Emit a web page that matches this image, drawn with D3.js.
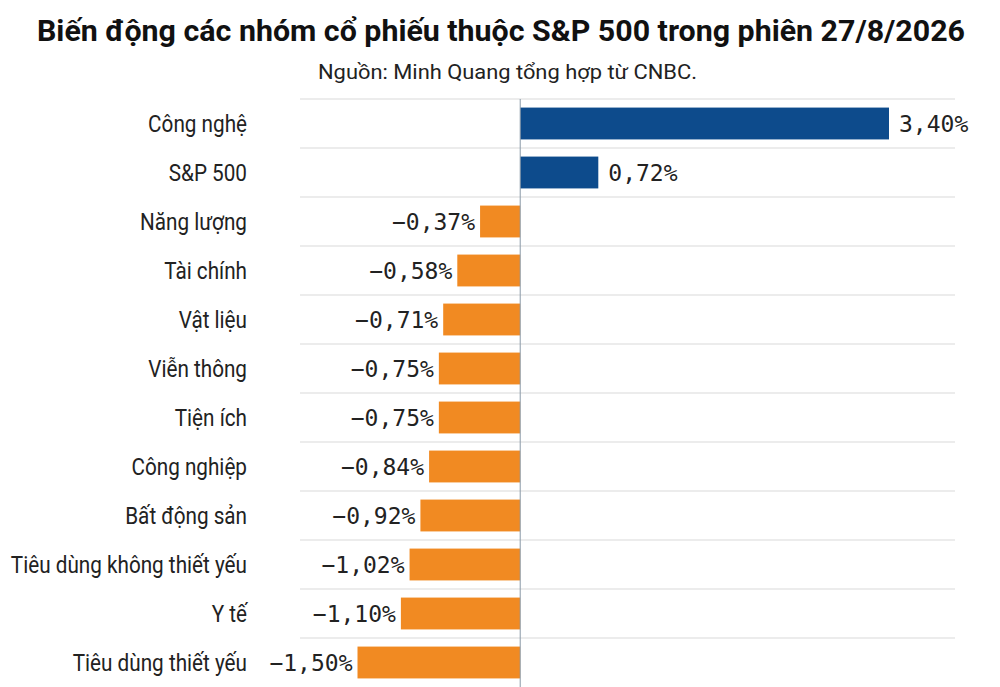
<!DOCTYPE html>
<html>
<head>
<meta charset="utf-8">
<script src="https://cdn.jsdelivr.net/npm/d3@7"></script>
<style>
  body { margin: 0; background: #fff; }
  svg { display: block; }
</style>
</head>
<body>
<svg id="chart" width="1000" height="687"></svg>
<script>
// categories and values (% change)
var categories = ["Công nghệ", "S&P 500", "Năng lượng", "Tài chính", "Vật liệu", "Viễn thông",
  "Tiện ích", "Công nghiệp", "Bất động sản", "Tiêu dùng không thiết yếu", "Y tế", "Tiêu dùng thiết yếu"];
var values = [3.40, 0.72, -0.37, -0.58, -0.71, -0.75, -0.75, -0.84, -0.92, -1.02, -1.10, -1.50];
var labels = ["3,40%", "0,72%", "−0,37%", "−0,58%", "−0,71%", "−0,75%", "−0,75%", "−0,84%",
  "−0,92%", "−1,02%", "−1,10%", "−1,50%"];

var titleText = "Biến động các nhóm cổ phiếu thuộc S&P 500 trong phiên 27/8/2026";
var sourceText = "Nguồn: Minh Quang tổng hợp từ CNBC.";

var svg = d3.select("#chart");

var x = d3.scaleLinear().domain([-1.5, 3.4]).range([357.5, 889]);
var y = d3.scaleBand().domain(categories).range([99, 687]).paddingInner(0.35).paddingOuter(0.175);

// title (condensed to fit width like the original)
svg.append("text")
  .attr("x", 37).attr("y", 41)
  .attr("textLength", 928)
  .attr("lengthAdjust", "spacingAndGlyphs")
  .style("font-family", "Roboto, sans-serif")
  .style("font-weight", "bold")
  .style("font-size", "29px")
  .attr("fill", "#111")
  .text(titleText);

svg.append("text")
  .attr("x", 318).attr("y", 79)
  .attr("textLength", 379)
  .attr("lengthAdjust", "spacingAndGlyphs")
  .style("font-family", "Roboto, sans-serif")
  .style("font-size", "20px")
  .attr("fill", "#222")
  .text(sourceText);

// row gridlines
var step = y.step();
var gridY = categories.map(function(c) { return y(c) - (step - y.bandwidth()) / 2; });
svg.append("g").selectAll("line")
  .data(gridY)
  .enter().append("line")
  .attr("x1", 300).attr("x2", 955)
  .attr("y1", function(d) { return d; })
  .attr("y2", function(d) { return d; })
  .attr("stroke", "#e6e6e6")
  .attr("stroke-width", 1.5);

// bars
svg.append("g").selectAll("rect")
  .data(values)
  .enter().append("rect")
  .attr("x", function(d) { return x(Math.min(0, d)); })
  .attr("y", function(d, i) { return y(categories[i]); })
  .attr("width", function(d) { return Math.abs(x(d) - x(0)); })
  .attr("height", y.bandwidth())
  .attr("fill", function(d) { return d >= 0 ? "#0d4b8c" : "#f18a22"; });

// zero line
svg.append("line")
  .attr("x1", x(0)).attr("x2", x(0))
  .attr("y1", 99).attr("y2", 687)
  .attr("stroke", "#8a9aa8")
  .attr("stroke-width", 1);

// category labels (narrowed a bit)
svg.append("g").selectAll("text")
  .data(categories)
  .enter().append("text")
  .attr("transform", function(d) {
    return "translate(247," + (y(d) + y.bandwidth() / 2) + ") scale(0.9,1)";
  })
  .attr("dy", "0.35em")
  .attr("text-anchor", "end")
  .style("font-family", "Roboto, sans-serif")
  .style("font-size", "23px")
  .attr("fill", "#222")
  .text(function(d) { return d; });

// value labels
svg.append("g").selectAll("text")
  .data(values)
  .enter().append("text")
  .attr("x", function(d) { return d >= 0 ? x(d) + 10 : x(d) - 5; })
  .attr("y", function(d, i) { return y(categories[i]) + y.bandwidth() / 2; })
  .attr("dy", "0.36em")
  .attr("text-anchor", function(d) { return d >= 0 ? "start" : "end"; })
  .style("font-family", "'DejaVu Sans Mono', monospace")
  .style("font-size", "23px")
  .attr("fill", "#222")
  .text(function(d, i) { return labels[i]; });
</script>
</body>
</html>
